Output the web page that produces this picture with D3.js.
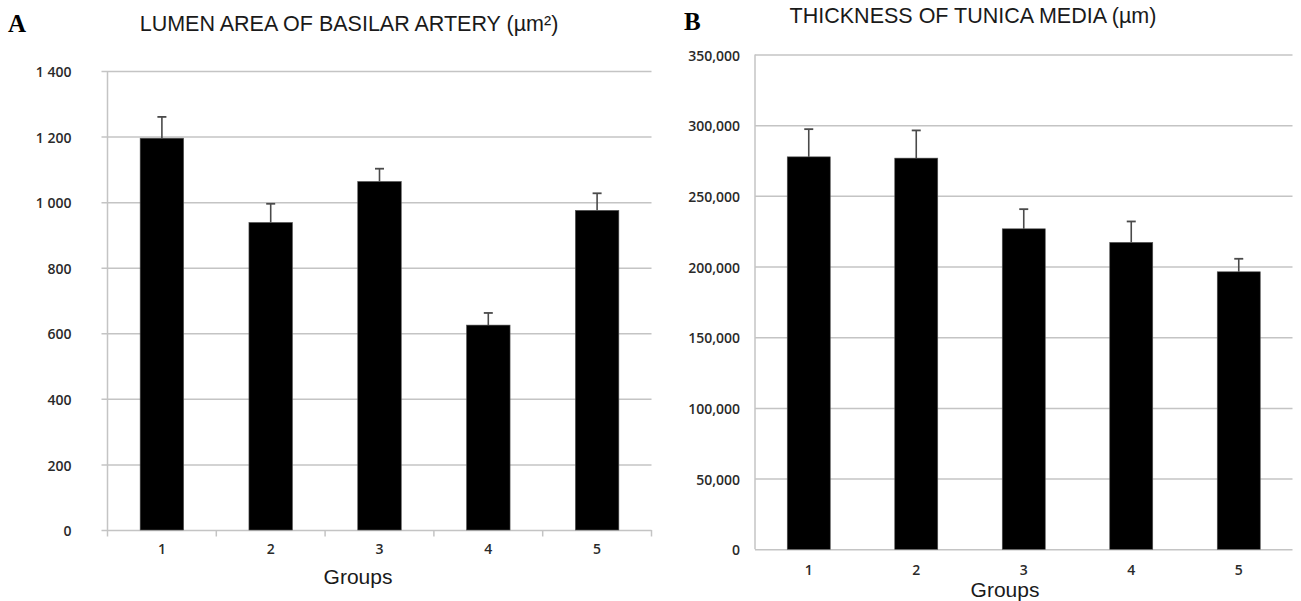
<!DOCTYPE html>
<html>
<head>
<meta charset="utf-8">
<script src="https://cdn.jsdelivr.net/npm/d3@7"></script>
<style>
  body { margin: 0; background: #fff; }
  svg { display: block; }
</style>
</head>
<body>
<svg id="chart" width="1301" height="601"></svg>
<script>
// data
var groups = ["1", "2", "3", "4", "5"];

var lumenMean = [1195, 938, 1063, 625, 975];
var lumenErr = [65, 57, 39, 37, 52];
var lumenTicks = [0, 200, 400, 600, 800, 1000, 1200, 1400];

var mediaMean = [277600, 276700, 226700, 217100, 196300];
var mediaErr = [19600, 19600, 13900, 14800, 9200];
var mediaTicks = [0, 50000, 100000, 150000, 200000, 250000, 300000, 350000];

var svg = d3.select("#chart");

// number formats
var spaceFmt = function(d) { return d3.format(",")(d).replace(/,/g, " "); };
var thousandsFmt = function(d) { return d === 0 ? "0" : d3.format(",")(d); };

function labelStyle(sel) {
    sel.style("font-family", "'Open Sans', 'DejaVu Sans', sans-serif")
        .style("font-size", "14px")
        .style("font-weight", "600")
        .style("fill", "#2a2a2a");
}

function panel(o) {
    var g = svg.append("g");

    var x = d3.scaleBand()
        .domain(groups)
        .range([o.left, o.right])
        .paddingInner(0.6)
        .paddingOuter(0.3);

    var y = d3.scaleLinear()
        .domain([0, o.max])
        .range([o.bottom, o.top]);

    // gridlines + y labels
    var ya = g.append("g")
        .attr("transform", "translate(" + o.tickStart + ",0)")
        .call(d3.axisLeft(y)
            .tickValues(o.ticks)
            .tickSize(-(o.right - o.tickStart))
            .tickPadding(o.pad)
            .tickFormat(o.fmt));
    ya.select(".domain").remove();
    ya.selectAll(".tick line").attr("stroke", "#c4c4c4").attr("stroke-width", 1.5);
    ya.selectAll(".tick text").attr("dy", "0.4em").call(labelStyle);

    // vertical axis line
    g.append("line")
        .attr("x1", o.left).attr("x2", o.left)
        .attr("y1", y(o.max)).attr("y2", y(0))
        .attr("stroke", "#c4c4c4").attr("stroke-width", 1.5);

    // category boundary ticks
    if (o.xTicks) {
        var step = x.step();
        var bounds = groups.map(function(d) { return x(d) - (step - x.bandwidth()) / 2; });
        bounds.push(o.right);
        g.selectAll(".xt").data(bounds).enter().append("line")
            .attr("x1", function(d) { return d; })
            .attr("x2", function(d) { return d; })
            .attr("y1", y(0)).attr("y2", y(0) + 6.5)
            .attr("stroke", "#c4c4c4").attr("stroke-width", 1.5);
    }

    // bars
    g.selectAll(".bar").data(groups).enter().append("rect")
        .attr("x", function(d) { return x(d); })
        .attr("width", x.bandwidth())
        .attr("y", function(d, i) { return y(o.mean[i]); })
        .attr("height", function(d, i) { return y(0) - y(o.mean[i]); })
        .attr("fill", "#000")
        .attr("stroke", "#555")
        .attr("stroke-width", 0.6);

    // error bars (upper only)
    var eb = g.selectAll(".err").data(groups).enter().append("g");
    eb.append("line")
        .attr("x1", function(d) { return x(d) + x.bandwidth() / 2; })
        .attr("x2", function(d) { return x(d) + x.bandwidth() / 2; })
        .attr("y1", function(d, i) { return y(o.mean[i]); })
        .attr("y2", function(d, i) { return y(o.mean[i] + o.err[i]); })
        .attr("stroke", "#4a4a4a").attr("stroke-width", 1.6);
    eb.append("line")
        .attr("x1", function(d) { return x(d) + x.bandwidth() / 2 - 4.5; })
        .attr("x2", function(d) { return x(d) + x.bandwidth() / 2 + 4.5; })
        .attr("y1", function(d, i) { return y(o.mean[i] + o.err[i]); })
        .attr("y2", function(d, i) { return y(o.mean[i] + o.err[i]); })
        .attr("stroke", "#4a4a4a").attr("stroke-width", 1.8);

    // x labels
    var xa = g.append("g")
        .attr("transform", "translate(0," + o.xLabelY + ")")
        .call(d3.axisBottom(x).tickSize(0).tickPadding(0));
    xa.select(".domain").remove();
    xa.selectAll(".tick text").call(labelStyle);

    // axis title
    g.append("text")
        .attr("x", o.groupsX).attr("y", o.groupsY)
        .attr("text-anchor", "middle")
        .style("font-family", "'Liberation Sans', Arial, sans-serif")
        .style("font-size", "21px")
        .style("fill", "#1a1a1a")
        .text("Groups");

    // chart title
    g.append("text")
        .attr("x", o.titleX).attr("y", o.titleY)
        .attr("text-anchor", "middle")
        .style("font-family", "'Liberation Sans', Arial, sans-serif")
        .style("font-size", "21.5px")
        .style("fill", "#1a1a1a")
        .text(o.title);

    // panel letter
    g.append("text")
        .attr("x", o.letterX).attr("y", o.letterY)
        .style("font-family", "'Liberation Serif', 'Times New Roman', serif")
        .style("font-weight", "bold")
        .style("font-size", "25px")
        .style("fill", "#000")
        .text(o.letter);
}

panel({
    mean: lumenMean, err: lumenErr, ticks: lumenTicks, max: 1400, fmt: spaceFmt,
    left: 107.5, right: 651.5, top: 71, bottom: 530,
    tickStart: 101.5, pad: 30, xTicks: true,
    xLabelY: 544, groupsX: 358, groupsY: 584,
    title: "LUMEN AREA OF BASILAR ARTERY (\u00b5m\u00b2)", titleX: 349, titleY: 30.5,
    letter: "A", letterX: 8, letterY: 31.5
});

panel({
    mean: mediaMean, err: mediaErr, ticks: mediaTicks, max: 350000, fmt: thousandsFmt,
    left: 755, right: 1292.5, top: 54.5, bottom: 549.3,
    tickStart: 755, pad: 15, xTicks: false,
    xLabelY: 565, groupsX: 1005, groupsY: 597,
    title: "THICKNESS OF TUNICA MEDIA (\u00b5m)", titleX: 973, titleY: 23.3,
    letter: "B", letterX: 684, letterY: 30
});
</script>
</body>
</html>
